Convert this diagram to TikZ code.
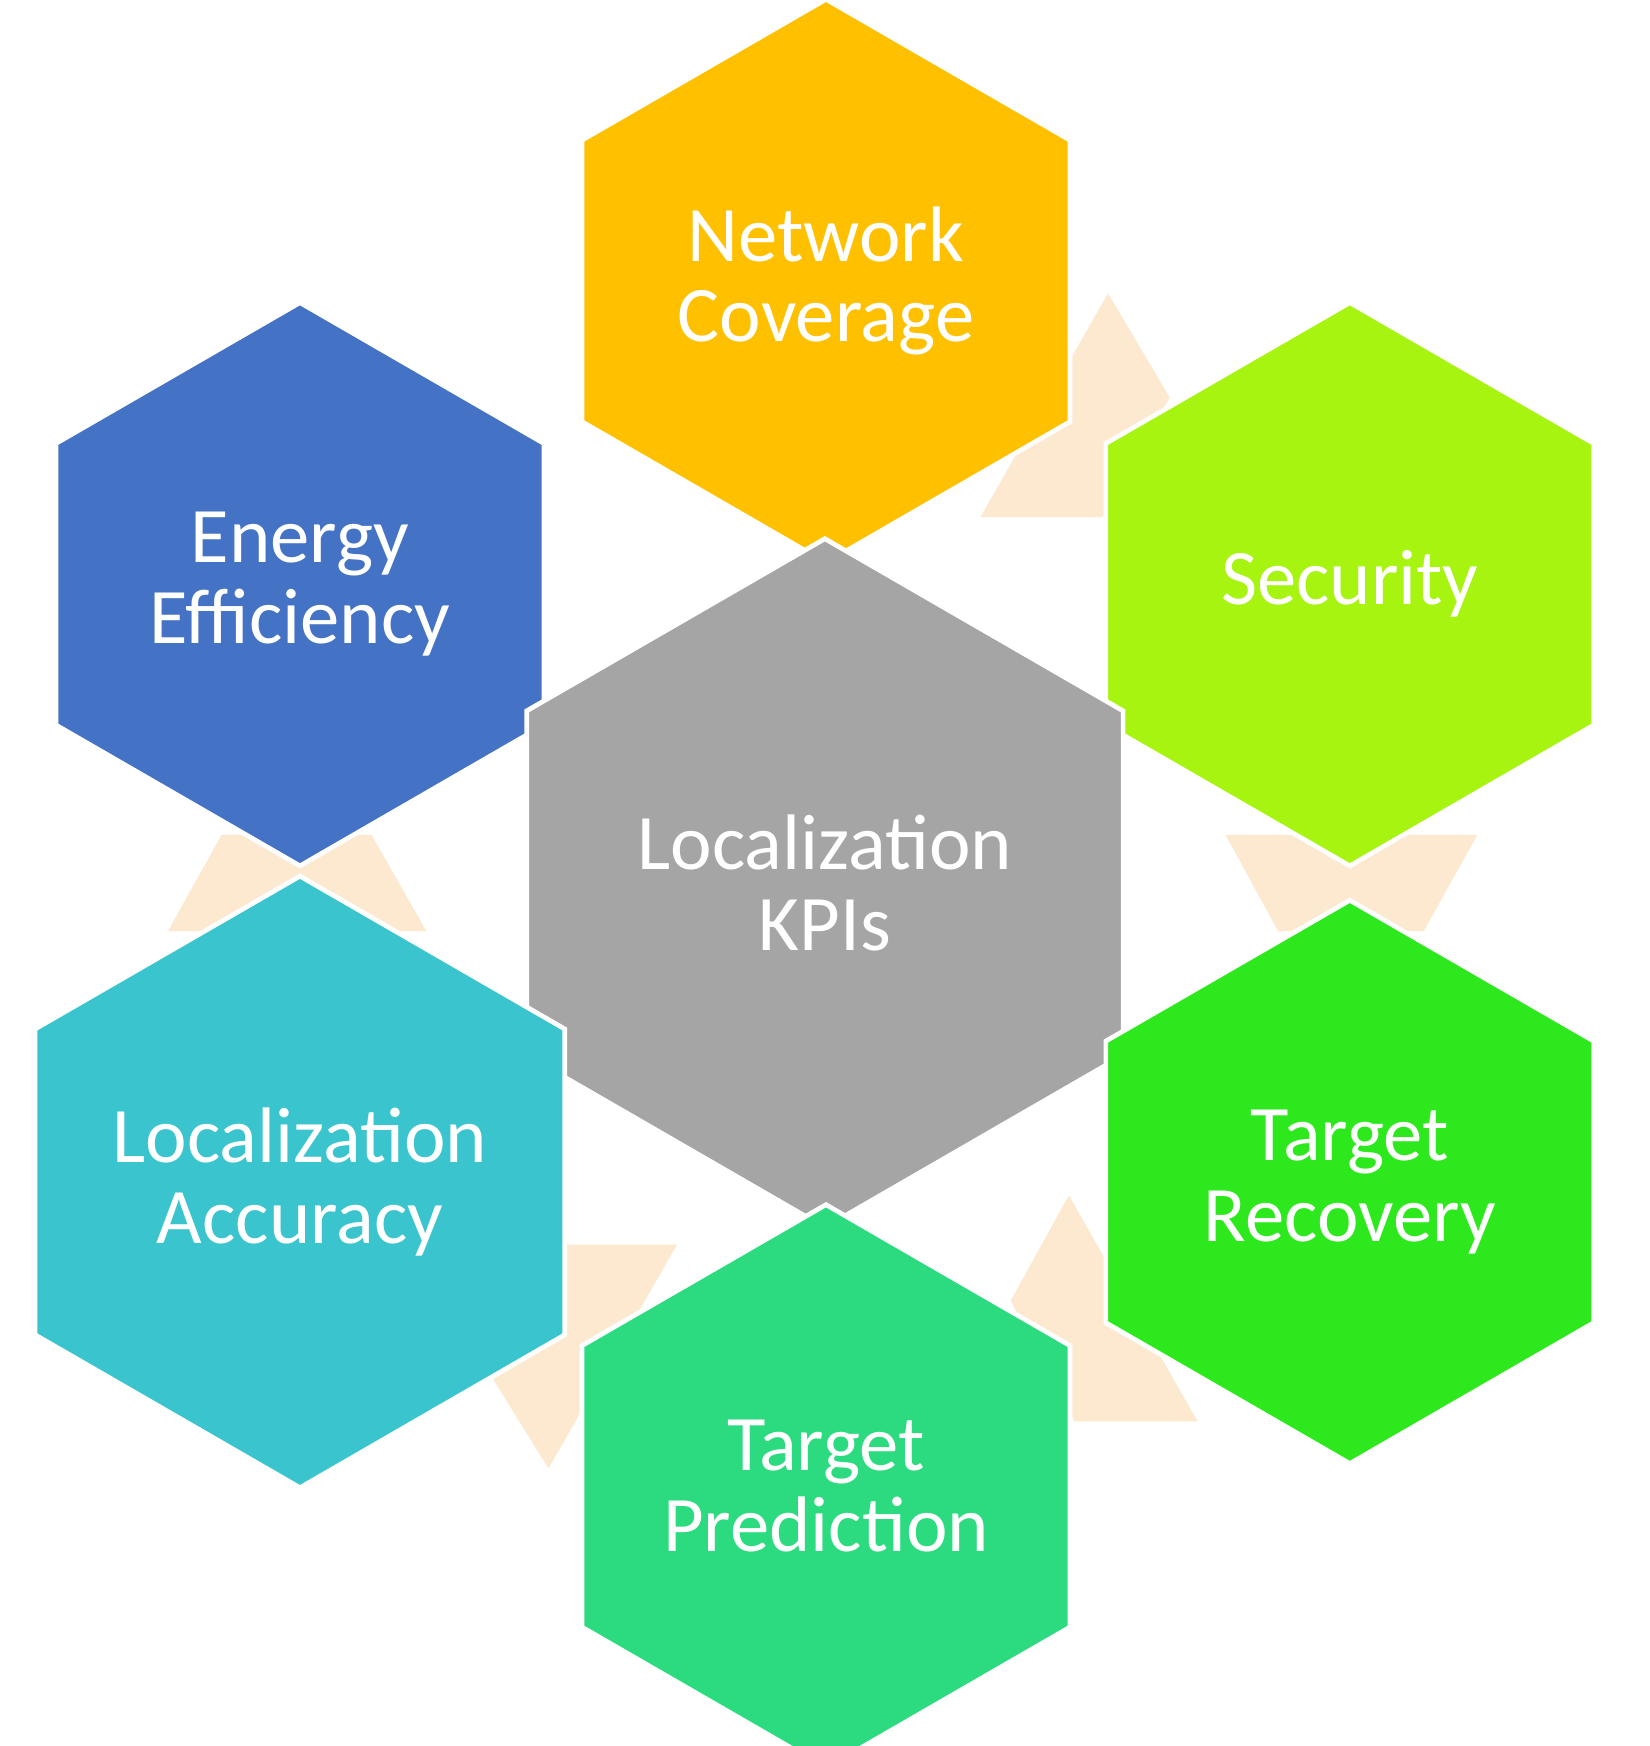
\documentclass[tikz,border=0pt]{standalone}
\usepackage{fontspec}
\setmainfont{Carlito}
\usetikzlibrary{shapes.geometric}
\definecolor{cNC}{HTML}{FFC000}
\definecolor{cEE}{HTML}{4472C4}
\definecolor{cSE}{HTML}{A6F40F}
\definecolor{cKP}{HTML}{A5A5A5}
\definecolor{cLA}{HTML}{3AC4CE}
\definecolor{cTR}{HTML}{2EE81E}
\definecolor{cTP}{HTML}{2CDB80}
\definecolor{peach}{HTML}{FDE9D0}
\begin{document}
\begin{tikzpicture}[x=0.01cm,y=-0.01cm,
  hex/.style={regular polygon,regular polygon sides=6,shape border rotate=30,
    minimum size=5.03cm,inner sep=0pt,draw=white,line width=1.2pt,text=white,align=center,
    font=\fontsize{20}{20.5}\selectfont},
  link/.style={fill=peach}]
\useasboundingbox (0,0) rectangle (1474,1560);
\fill[white] (0,0) rectangle (1474,1560);
\fill[link] (990,262) -- (1045,355) -- (985,462) -- (876,462) -- cycle;
\fill[link] (198,746) -- (332,746) -- (381,832) -- (150,832) -- cycle;
\fill[link] (1095,746) -- (1320,746) -- (1272,832) -- (1142,832) -- cycle;
\fill[link] (955,1068) -- (1070,1270) -- (960,1270) -- (903,1162) -- cycle;
\fill[link] (497,1112) -- (605,1112) -- (490,1312) -- (433,1220) -- cycle;
\node[hex,fill=cNC] (nc) at (738,251) {Network\\Coverage};
\node[hex,fill=cEE] (ee) at (268,522) {Energy\\Efficiency};
\node[hex,fill=cSE] (se) at (1206,522) {Security};
\node[hex,fill=cKP,minimum size=6.15cm] (kp) at (737,789) {Localization\\KPIs};
\node[hex,fill=cLA] (la) at (268,1056) {Localization\\Accuracy};
\node[hex,fill=cTR] (tr) at (1206,1056) {Target\\Recovery};
\node[hex,fill=cTP] (tp) at (738,1328) {Target\\Prediction};
\end{tikzpicture}
\end{document}
